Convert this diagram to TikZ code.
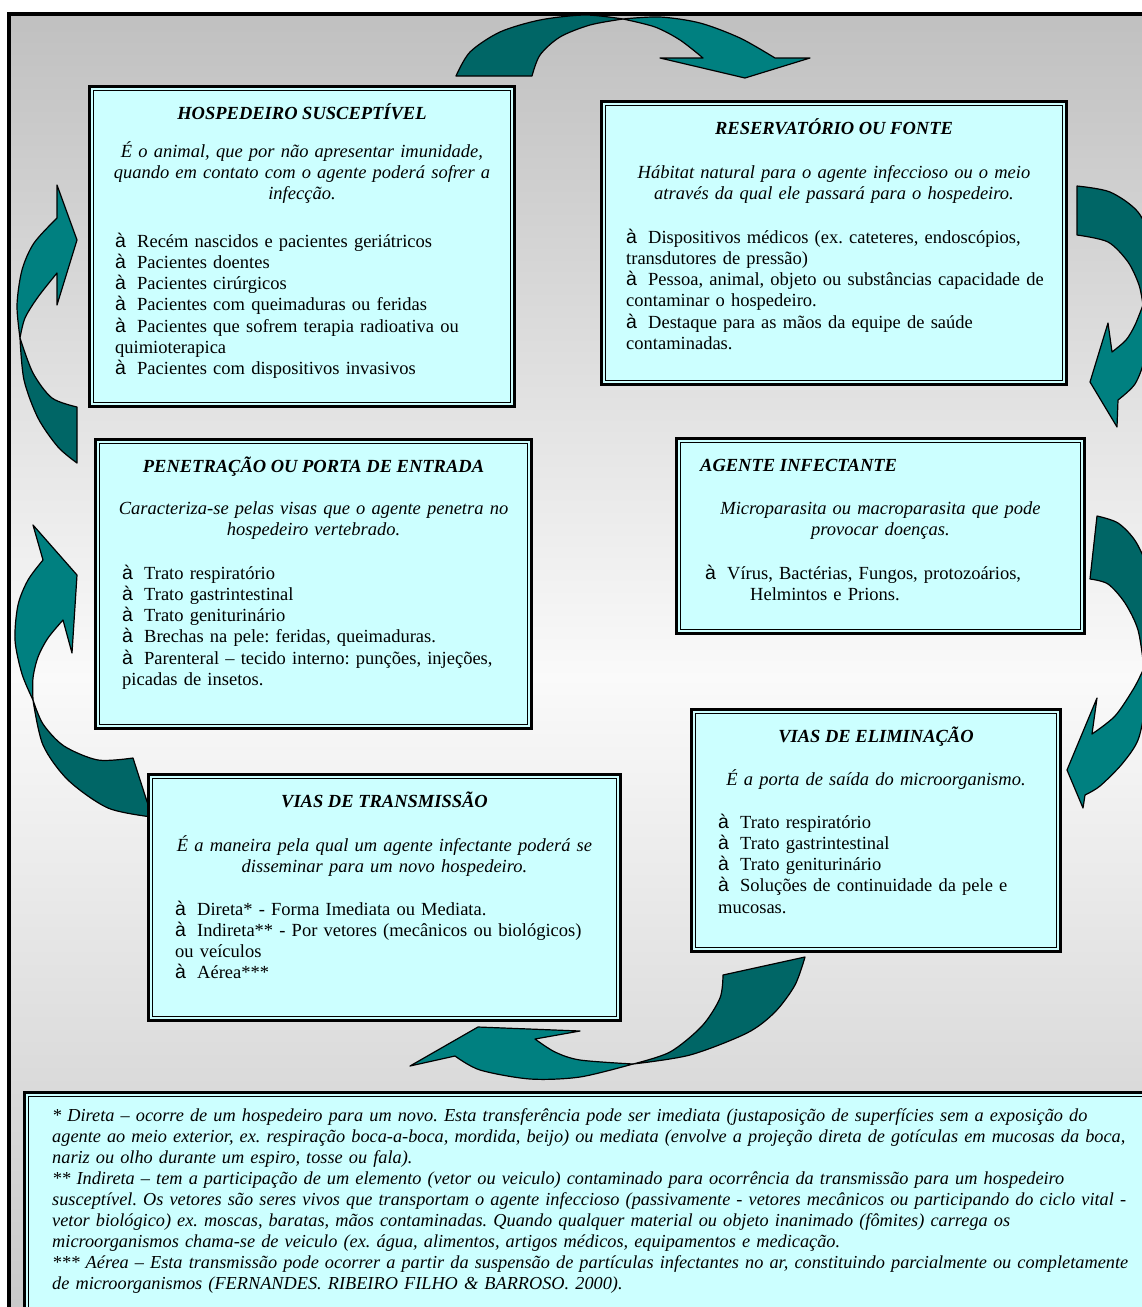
\documentclass[tikz,border=0pt]{standalone}
\usepackage{fontspec}
\setmainfont{Liberation Serif}
\newfontfamily\arrowfont{Liberation Sans}
\newcommand\bodysize{\fontsize{18.5}{21.3}\selectfont\frenchspacing}
\newcommand\notesize{\fontsize{18.3}{21.1}\selectfont\frenchspacing}
\newcommand\itembullet{\makebox[22pt][l]{\arrowfont\fontsize{19.5}{21.3}\selectfont à}}
\definecolor{tealfront}{HTML}{008080}
\definecolor{tealback}{HTML}{006666}
\definecolor{panelfill}{HTML}{CCFFFF}
\definecolor{framegray}{HTML}{C0C0C0}
\begin{document}
\begin{tikzpicture}[x=1pt,y=-1pt,
  panel/.style={draw=black, line width=3pt, fill=panelfill, inner sep=0pt, outer sep=0pt, anchor=north west},
  heading/.style={font=\bodysize\bfseries\itshape, anchor=base, inner sep=0pt},
  lead/.style={font=\bodysize\itshape, align=center, text width=470pt, anchor=base, inner sep=0pt},
  items/.style={font=\bodysize, align=left, text width=470pt, anchor=base west, inner sep=0pt},
  rearface/.style={fill=tealback, draw=black, line width=1.2pt, line join=round},
  frontface/.style={fill=tealfront, draw=black, line width=1.2pt, line join=round},
]
\useasboundingbox (0,0) rectangle (1142,1307);
\clip (0,0) rectangle (1142,1307);
\fill[white] (0,0) rectangle (1142,1307);

% outer frame with vertical gray-white-gray gradient
\shadedraw[line width=3.5pt, top color=framegray, bottom color=framegray!90!white, middle color=white!98!black]
  (9,14) rectangle (1165,1340);

% ---- curved arrows (rear face = darker lobe, front face = lobe with head)
% top: hospedeiro -> reservatorio
\filldraw[rearface] plot[smooth] coordinates {(532,76) (540,55) (560,37) (590,25) (623,19)}
  -- plot[smooth] coordinates {(623,19) (585,15) (540,20) (500,32) (470,52) (456,76)} -- cycle;
\filldraw[frontface] plot[smooth] coordinates {(623,19) (660,17) (700,23) (740,38) (775,58)}
  -- (810,58) -- (745,78) -- (660,58)
  -- plot[smooth] coordinates {(703,58) (680,40) (655,27) (623,19)} -- cycle;

% right upper: reservatorio -> agente
\filldraw[rearface] plot[smooth] coordinates {(1077,235) (1108,242) (1128,262) (1139,285) (1143,305)}
  -- plot[smooth] coordinates {(1143,305) (1155,280) (1153,245) (1138,212) (1110,192) (1077,186)} -- cycle;
\filldraw[frontface] plot[smooth] coordinates {(1143,305) (1148,330) (1145,358) (1135,384) (1118,400)}
  -- (1117,427) -- (1090,382) -- (1108,323)
  -- plot[smooth] coordinates {(1112,352) (1126,340) (1135,325) (1143,305)} -- cycle;

% right lower: agente -> eliminacao
\filldraw[rearface] plot[smooth] coordinates {(1090,579) (1108,584) (1125,603) (1138,630) (1144,668)}
  -- plot[smooth] coordinates {(1144,668) (1152,645) (1155,615) (1150,575) (1136,542) (1118,523) (1097,516)} -- cycle;
\filldraw[frontface] plot[smooth] coordinates {(1144,668) (1145,705) (1138,740) (1122,764) (1100,786) (1085,795)}
  -- (1083,808) -- (1067,770) -- (1097,698)
  -- plot[smooth] coordinates {(1092,734) (1115,716) (1134,688) (1144,668)} -- cycle;

% bottom: eliminacao -> transmissao
\filldraw[rearface] plot[smooth] coordinates {(723,975) (720,998) (702,1026) (670,1052) (633,1064)}
  -- plot[smooth] coordinates {(633,1064) (690,1055) (747,1033) (775,1012) (795,985) (805,957)} -- cycle;
\filldraw[frontface] plot[smooth] coordinates {(633,1064) (580,1077) (530,1079) (480,1070) (455,1056)}
  -- (410,1066) -- (478,1027) -- (580,1031)
  -- plot[smooth] coordinates {(535,1039) (555,1052) (580,1060) (633,1064)} -- cycle;

% left lower: transmissao -> penetracao
\filldraw[rearface] plot[smooth] coordinates {(133,758) (98,760) (64,746) (43,724) (33,700)}
  -- plot[smooth] coordinates {(33,700) (43,745) (68,780) (108,808) (152,817)} -- cycle;
\filldraw[frontface] plot[smooth] coordinates {(33,700) (22,674) (15,640) (18,605) (28,580) (43,560)}
  -- (33,525) -- (77,575) -- (72,653)
  -- plot[smooth] coordinates {(63,620) (48,638) (38,657) (33,678) (33,700)} -- cycle;

% left upper: penetracao -> hospedeiro
\filldraw[rearface] plot[smooth] coordinates {(77,407) (52,398) (33,373) (20,338)}
  -- plot[smooth] coordinates {(20,338) (24,380) (38,418) (58,447) (77,463)} -- cycle;
\filldraw[frontface] plot[smooth] coordinates {(20,338) (17,305) (22,270) (34,243) (57,218)}
  -- (57,185) -- (77,240) -- (57,305)
  -- plot[smooth] coordinates {(57,273) (38,297) (25,318) (20,338)} -- cycle;

% ---- panels
\node[panel, minimum width=425pt, minimum height=320pt] (hosp) at (89.5,86.5) {};
\node[panel, minimum width=465pt, minimum height=283pt] (res) at (601.5,101.5) {};
\node[panel, minimum width=436pt, minimum height=289pt] (pen) at (95.5,439.5) {};
\node[panel, minimum width=408pt, minimum height=195pt] (agent) at (676.5,438.5) {};
\node[panel, minimum width=472pt, minimum height=246pt] (trans) at (148.5,774.5) {};
\node[panel, minimum width=369pt, minimum height=242pt] (elim) at (691.5,709.5) {};
\node[panel, minimum width=1200pt, minimum height=300pt] (note) at (24.5,1092.5) {};
\foreach \p in {hosp,res,pen,agent,trans,elim,note}
  \draw[line width=1.3pt] ([shift={(4,4)}]\p.north west) rectangle ([shift={(-4,-4)}]\p.south east);

% ---- texts
\node[heading] (hosp-t) at (302,119) {HOSPEDEIRO SUSCEPTÍVEL};
\node[lead] (hosp-d) at (302,157) {É o animal, que por não apresentar imunidade,\\ quando em contato com o agente poderá sofrer a\\ infecção.};
\node[items] (hosp-i) at (115,247) {\itembullet Recém nascidos e pacientes geriátricos\\
\itembullet Pacientes doentes\\
\itembullet Pacientes cirúrgicos\\
\itembullet Pacientes com queimaduras ou feridas\\
\itembullet Pacientes que sofrem terapia radioativa ou\\
quimioterapica\\
\itembullet Pacientes com dispositivos invasivos};

\node[heading] (res-t) at (834,134) {RESERVATÓRIO OU FONTE};
\node[lead] (res-d) at (834,178) {Hábitat natural para o agente infeccioso ou o meio\\ através da qual ele passará para o hospedeiro.};
\node[items] (res-i) at (626,243) {\itembullet Dispositivos médicos (ex. cateteres, endoscópios,\\
transdutores de pressão)\\
\itembullet Pessoa, animal, objeto ou substâncias capacidade de\\
contaminar o hospedeiro.\\
\itembullet Destaque para as mãos da equipe de saúde\\
contaminadas.};

\node[heading] (pen-t) at (313.5,472) {PENETRAÇÃO OU PORTA DE ENTRADA};
\node[lead] (pen-d) at (313.5,514) {Caracteriza-se pelas visas que o agente penetra no\\ hospedeiro vertebrado.};
\node[items] (pen-i) at (122,579) {\itembullet Trato respiratório\\
\itembullet Trato gastrintestinal\\
\itembullet Trato geniturinário\\
\itembullet Brechas na pele: feridas, queimaduras.\\
\itembullet Parenteral – tecido interno: punções, injeções,\\
picadas de insetos.};

\node[heading, anchor=base west] (agent-t) at (700,471) {AGENTE INFECTANTE};
\node[lead] (agent-d) at (880.5,514) {Microparasita ou macroparasita que pode\\ provocar doenças.};
\node[items] (agent-i) at (705,579) {\itembullet Vírus, Bactérias, Fungos, protozoários,\\
\hspace*{45pt}Helmintos e Prions.};

\node[heading] (trans-t) at (384.5,807) {VIAS DE TRANSMISSÃO};
\node[lead] (trans-d) at (384.5,851) {É a maneira pela qual um agente infectante poderá se\\ disseminar para um novo hospedeiro.};
\node[items] (trans-i) at (175,915) {\itembullet Direta* - Forma Imediata ou Mediata.\\
\itembullet Indireta** - Por vetores (mecânicos ou biológicos)\\
ou veículos\\
\itembullet Aérea***};

\node[heading] (elim-t) at (876,742) {VIAS DE ELIMINAÇÃO};
\node[lead] (elim-d) at (876,785) {É a porta de saída do microorganismo.};
\node[items] (elim-i) at (718,828) {\itembullet Trato respiratório\\
\itembullet Trato gastrintestinal\\
\itembullet Trato geniturinário\\
\itembullet Soluções de continuidade da pele e\\
mucosas.};

\node[items, font=\notesize\itshape, text width=1250pt] (note-t) at (52,1121) {* Direta – ocorre de um hospedeiro para um novo. Esta transferência pode ser imediata (justaposição de superfícies sem a exposição do\\
agente ao meio exterior, ex. respiração boca-a-boca, mordida, beijo) ou mediata (envolve a projeção direta de gotículas em mucosas da boca,\\
nariz ou olho durante um espiro, tosse ou fala).\\\relax
** Indireta – tem a participação de um elemento (vetor ou veiculo) contaminado para ocorrência da transmissão para um hospedeiro\\
susceptível. Os vetores são seres vivos que transportam o agente infeccioso (passivamente - vetores mecânicos ou participando do ciclo vital -\\
vetor biológico) ex. moscas, baratas, mãos contaminadas. Quando qualquer material ou objeto inanimado (fômites) carrega os\\
microorganismos chama-se de veiculo (ex. água, alimentos, artigos médicos, equipamentos e medicação.\\\relax
*** Aérea – Esta transmissão pode ocorrer a partir da suspensão de partículas infectantes no ar, constituindo parcialmente ou completamente\\
de microorganismos (FERNANDES. RIBEIRO FILHO \& BARROSO. 2000).};
\end{tikzpicture}
\end{document}
